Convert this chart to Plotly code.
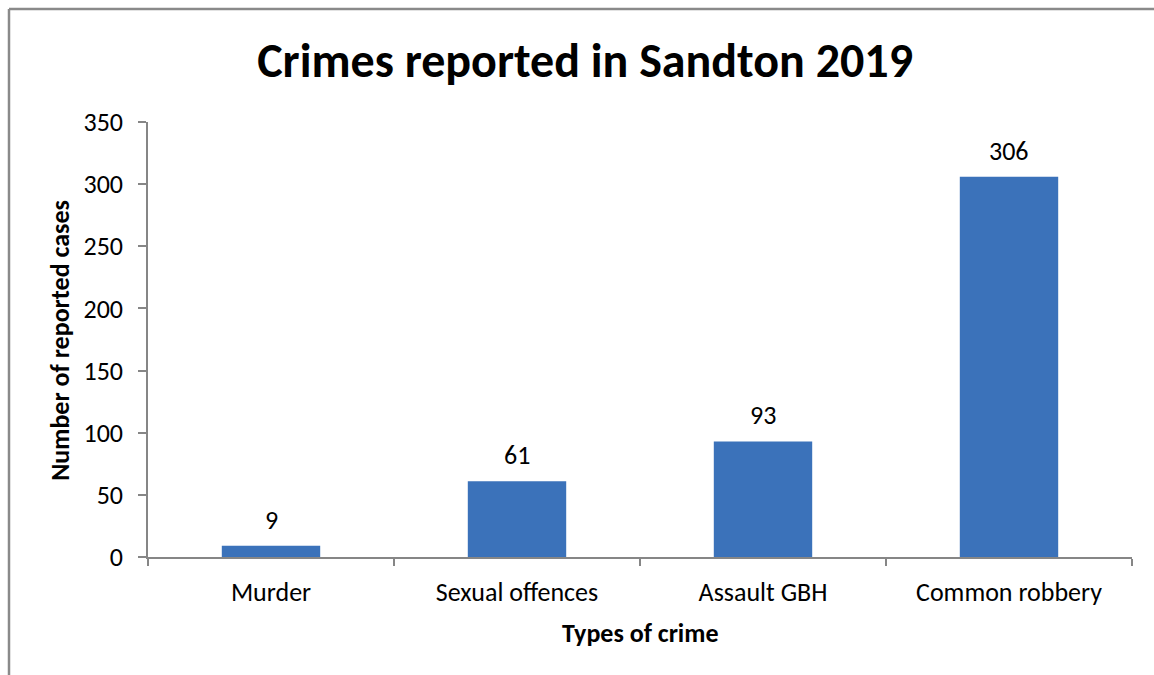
import plotly.graph_objects as go

# Reported crime counts, Sandton 2019
crime_types = ["Murder", "Sexual offences", "Assault GBH", "Common robbery"]
reported_cases = [9, 61, 93, 306]
y_ticks = [0, 50, 100, 150, 200, 250, 300, 350]

FONT = "Carlito, Calibri, Lato, sans-serif"
AXIS_GREY = "#868686"
TXT = 26

fig = go.Figure()
fig.add_trace(go.Bar(
    x=crime_types,
    y=reported_cases,
    width=0.4,
    marker=dict(color="#3b72ba", line=dict(width=0)),
    hoverinfo="x+y",
))

# Value labels above each bar
for name, val in zip(crime_types, reported_cases):
    fig.add_annotation(
        x=name, y=val, text=str(val), showarrow=False,
        yanchor="bottom", yshift=8,
        font=dict(family=FONT, size=TXT, color="#000000"),
    )

# Axis titles
fig.add_annotation(
    xref="paper", yref="paper", x=0.5, y=-0.175,
    text="<b>Types of crime</b>", showarrow=False,
    xanchor="center", yanchor="middle",
    font=dict(family=FONT, size=TXT, color="#000000"),
)
fig.add_annotation(
    xref="paper", yref="paper", x=-0.0894, y=0.497,
    text="<b>Number of reported cases</b>", showarrow=False,
    textangle=-90, xanchor="center", yanchor="middle",
    font=dict(family=FONT, size=TXT, color="#000000"),
)

# Frame lines along the top and left edges of the chart area
plot_w, plot_h = 984, 435
fig.add_shape(type="line", xref="paper", yref="paper",
              x0=(9 - 148) / plot_w, x1=(1160 - 148) / plot_w,
              y0=(557 - 9) / plot_h, y1=(557 - 9) / plot_h,
              line=dict(color="#8a8a8a", width=2.5))
fig.add_shape(type="line", xref="paper", yref="paper",
              x0=(9 - 148) / plot_w, x1=(9 - 148) / plot_w,
              y0=(557 - 9) / plot_h, y1=(557 - 680) / plot_h,
              line=dict(color="#8a8a8a", width=2.5))

fig.update_layout(
    width=1154, height=675,
    margin=dict(l=148, r=22, t=122, b=118),
    paper_bgcolor="white", plot_bgcolor="white",
    showlegend=False,
    bargap=0.6,
    title=dict(
        text="<b>Crimes reported in Sandton 2019</b>",
        x=0.507, xanchor="center", y=1 - 60 / 675, yanchor="middle",
        font=dict(family=FONT, size=48, color="#000000"),
    ),
    font=dict(family=FONT, size=TXT, color="#000000"),
)

fig.update_xaxes(
    showline=True, linecolor=AXIS_GREY, linewidth=1.5,
    ticks="outside", tickson="boundaries", ticklen=7,
    tickcolor=AXIS_GREY, tickwidth=1.5,
    ticklabelstandoff=11,
    tickfont=dict(family=FONT, size=TXT, color="#000000"),
    showgrid=False, zeroline=False,
)
fig.update_yaxes(
    range=[0, 350], tickvals=y_ticks,
    showline=True, linecolor=AXIS_GREY, linewidth=1.5,
    ticks="outside", ticklen=8, tickcolor=AXIS_GREY, tickwidth=1.5,
    ticklabelstandoff=10,
    tickfont=dict(family=FONT, size=TXT, color="#000000"),
    showgrid=False, zeroline=False,
)

fig.write_html("out.html")
